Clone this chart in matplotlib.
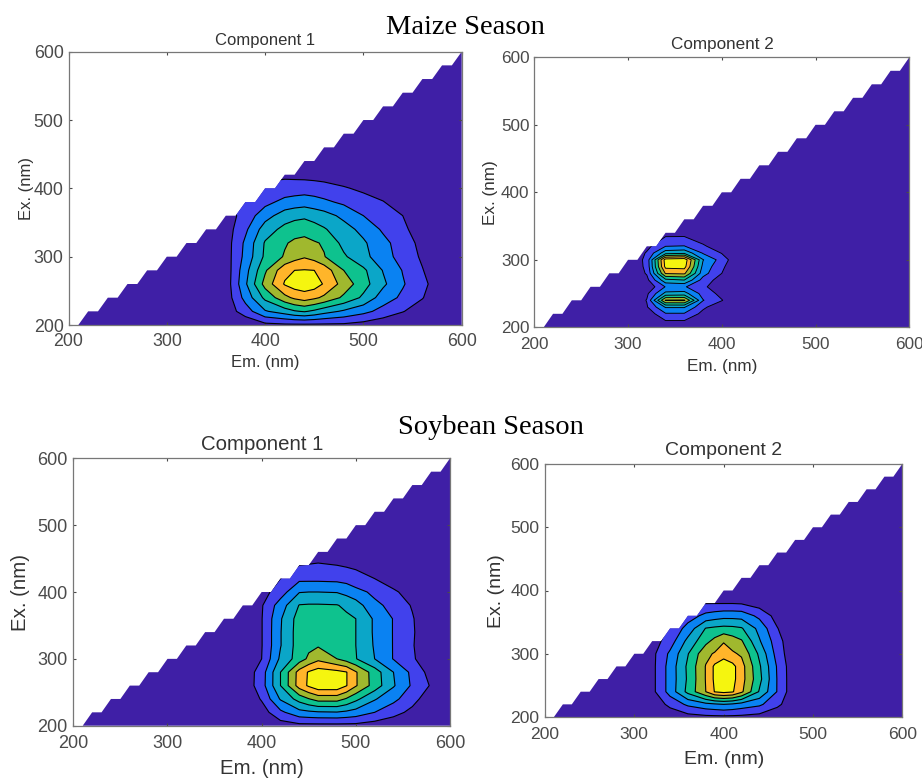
import numpy as np
import matplotlib
matplotlib.use("Agg")
import matplotlib.pyplot as plt

W, H = 922, 780

season_titles = ["Maize Season", "Soybean Season"]
panel_titles = ["Component 1", "Component 2", "Component 1", "Component 2"]
ticks = [200, 300, 400, 500, 600]

# Fluorescence intensity, in contour-level units
em1 = [360, 380, 400, 420, 430, 440, 450, 460, 480, 500, 520, 540, 560, 580]
ex1 = [200, 220, 240, 260, 280, 300, 320, 340, 360, 380, 400, 420]
z1 = [
    [0, .2, .7, .8, .8, .8, .8, .8, .8, .6, .3, .1, 0, 0],
    [.4, 1.5, 2.9, 3.5, 3.9, 4.1, 3.8, 3.4, 2.85, 2.3, 1.65, 1.05, .5, .1],
    [.4, 2.35, 4.25, 5.7, 6.2, 6.5, 6.2, 5.8, 4.8, 3.8, 2.5, 1.8, 1.05, .2],
    [.4, 2.84, 5.37, 7.1, 7.5, 7.6, 7.5, 6.9, 5.6, 4.4, 3.2, 2.1, 1.25, .4],
    [.4, 2.64, 4.85, 6.7, 7.0, 7.05, 7.0, 6.6, 5.0, 4.2, 2.95, 1.95, 1.05, .2],
    [.5, 2.3, 4.2, 5.1, 5.6, 5.9, 5.6, 5.05, 4.15, 3.3, 2.43, 1.6, .85, .1],
    [.5, 2.2, 4.1, 4.9, 5.2, 5.3, 5.1, 4.9, 3.7, 3.15, 2.3, 1.5, .7, 0],
    [.5, 1.8, 3.5, 4.3, 4.55, 4.65, 4.4, 4.1, 3.4, 2.7, 1.85, 1.2, .5, 0],
    [.5, 1.4, 2.6, 3.5, 3.7, 3.8, 3.6, 3.4, 2.75, 2.0, 1.4, 1.0, .3, 0],
    [1.0, 1.3, 1.7, 2.3, 2.45, 2.55, 2.4, 2.2, 1.8, 1.4, 1.05, .4, 0, 0],
    [1.0, 1.2, 1.3, 1.4, 1.45, 1.5, 1.45, 1.35, 1.1, .8, .4, .1, 0, 0],
    [.3, .5, .7, .8, .75, .7, .65, .6, .4, .2, 0, 0, 0, 0],
]

em2 = [300, 320, 340, 360, 380, 400, 420]
ex2 = [200, 220, 230, 240, 250, 260, 270, 280, 290, 300, 310, 320, 340]
z2 = [
    [0, 0, .1, .1, .1, 0, 0],
    [0, .3, 1.9, 1.9, .7, .1, 0],
    [0, .9, 3.1, 3.1, 1.2, .3, 0],
    [0, 1.05, 6.1, 6.15, 2.05, 1.05, 0],
    [0, .8, 3.3, 3.4, 1.6, .7, 0],
    [0, .2, 2.05, 2.1, 1.2, .3, 0],
    [0, .7, 3.7, 4.0, 1.6, .5, 0],
    [0, 1.1, 6.1, 6.2, 2.4, 1.0, 0],
    [0, 1.25, 7.3, 7.4, 2.7, 1.2, 0],
    [0, 1.3, 7.5, 7.7, 3.05, 1.55, 0],
    [0, 1.1, 3.6, 3.8, 1.9, .95, 0],
    [0, .7, 2.0, 2.05, 1.15, .4, 0],
    [0, 0, .6, .6, .2, 0, 0],
]

em3 = [360, 380, 400, 420, 440, 450, 460, 480, 490, 500, 520, 540, 560, 580]
ex3 = [200, 220, 240, 260, 280, 300, 320, 340, 360, 380, 400, 420, 440, 460]
z3 = [
    [0, 0, 0, .5, .7, .7, .7, .7, .7, .7, .5, .2, 0, 0],
    [0, 0, .5, 1.78, 2.67, 2.8, 2.9, 2.95, 2.8, 2.6, 2.0, 1.4, .7, 0],
    [0, 0, 1.1, 3.1, 4.4, 4.95, 5.4, 5.4, 4.9, 4.25, 3.1, 2.25, 1.4, .3],
    [0, .2, 1.55, 4.0, 6.45, 7.15, 7.7, 7.7, 7.05, 6.1, 4.55, 3.1, 1.85, .9],
    [0, .2, 1.5, 4.0, 6.4, 7.1, 7.5, 7.3, 7.05, 6.1, 4.5, 3.0, 1.75, .6],
    [0, .2, 1.0, 3.2, 4.5, 5.2, 5.75, 5.0, 4.55, 4.05, 3.0, 1.95, 1.2, 0],
    [0, 0, .95, 2.95, 4.5, 4.75, 4.9, 4.6, 4.3, 4.0, 2.9, 1.95, 1.1, 0],
    [0, 0, .95, 2.95, 4.5, 4.55, 4.6, 4.5, 4.2, 4.0, 2.85, 1.95, 1.15, 0],
    [0, 0, .95, 2.9, 4.45, 4.5, 4.5, 4.5, 4.2, 4.0, 2.85, 1.95, 1.1, 0],
    [0, 0, .9, 2.5, 4.05, 4.1, 4.1, 4.05, 3.8, 3.5, 2.2, 1.75, .9, 0],
    [0, 0, .6, 1.5, 2.95, 3.0, 3.0, 2.95, 2.7, 2.3, 1.8, 1.15, .6, 0],
    [0, 0, 0, 1.0, 1.75, 1.75, 1.75, 1.7, 1.6, 1.4, 1.0, .5, .2, 0],
    [0, 0, 0, .5, 1.0, 1.05, 1.1, 1.0, .9, .8, .5, .2, 0, 0],
    [0, 0, 0, 0, .3, .4, .5, .4, .35, .3, 0, 0, 0, 0],
]

em4 = [300, 320, 340, 360, 380, 390, 400, 410, 420, 440, 460, 480]
ex4 = [200, 220, 240, 260, 280, 300, 320, 340, 360, 380, 400]
z4 = [
    [0, 0, .2, .6, .75, .78, .8, .78, .75, .6, .2, 0],
    [0, .2, 1.3, 2.2, 2.7, 2.85, 3.0, 2.85, 2.6, 2.2, 1.25, .2],
    [0, .7, 2.4, 4.3, 6.0, 7.05, 7.3, 7.1, 6.2, 3.9, 1.95, .15],
    [0, .7, 2.4, 4.15, 6.05, 7.2, 8.0, 7.3, 6.4, 4.3, 1.95, .15],
    [0, .7, 2.4, 4.2, 6.05, 7.2, 8.0, 7.3, 6.4, 4.15, 1.9, .15],
    [0, .7, 2.2, 3.95, 5.75, 6.1, 6.3, 6.15, 5.85, 3.8, 1.6, .1],
    [0, .5, 1.5, 3.3, 4.7, 5.3, 5.95, 5.5, 5.1, 3.1, 1.45, 0],
    [0, .5, 1.1, 2.4, 4.05, 4.2, 4.3, 4.25, 4.1, 2.7, 1.05, 0],
    [0, 0, .5, 1.5, 2.3, 2.5, 2.65, 2.65, 2.6, 1.75, .6, 0],
    [0, 0, .3, .9, .95, .95, .95, .95, .9, .5, .1, 0],
    [0, 0, 0, 0, 0, 0, 0, 0, 0, 0, 0, 0],
]

levels = [1, 2, 3, 4, 5, 6, 7, 100]
band_colors = ["#4141EC", "#0A82F2", "#0BA6C8", "#0EC28E", "#A0B82E", "#FFB52A", "#F5F50F"]
base_color = "#3F1FA6"
ink = "#4a4a4a"

# left, right, top, bottom in pixels; text centres in pixels; font sizes in pt
panels = [
    dict(box=(68.5, 461.7, 51.7, 325), title=(265, 40), xl=(265.7, 362.7), yl=(26, 188),
         fs=12, tick_fs=12.8, pads=(6, 3.5), lw=0.8, em=em1, ex=ex1, z=z1),
    dict(box=(534.3, 909.3, 57.3, 327.3), title=(722, 45), xl=(722, 366), yl=(490.7, 192.7),
         fs=12.3, tick_fs=12.3, pads=(7, 3.5), lw=0.65, em=em2, ex=ex2, z=z2),
    dict(box=(73.3, 450, 458.3, 725.7), title=(262, 444), xl=(262, 769), yl=(20.7, 592.7),
         fs=14.7, tick_fs=13, pads=(7, 4), lw=0.8, em=em3, ex=ex3, z=z3),
    dict(box=(545, 902.3, 464, 717), title=(724, 450.7), xl=(724, 759), yl=(496, 590.7),
         fs=14, tick_fs=12.6, pads=(7, 4), lw=0.8, em=em4, ex=ex4, z=z4),
]

plt.rcParams["font.family"] = ["Liberation Sans", "DejaVu Sans"]
fig = plt.figure(figsize=(W / 100, H / 100), dpi=100, facecolor="white")


def fx(px):
    return px / W


def fy(py):
    return 1 - py / H


em_grid = np.arange(200, 601, 10)
ex_grid = np.arange(200, 601, 20)
EM, EX = np.meshgrid(em_grid, ex_grid)
base_z = np.ma.masked_where(EM < EX, np.zeros_like(EM, dtype=float))

for i, p in enumerate(panels):
    l, r, t, b = p["box"]
    ax = fig.add_axes([fx(l), fy(b), (r - l) / W, (b - t) / H])
    base = ax.contourf(EM, EX, base_z, levels=[-1, 1], colors=[base_color], antialiased=True)
    clip = base.get_paths()[0]
    cf = ax.contourf(p["em"], p["ex"], np.array(p["z"]), levels=levels, colors=band_colors,
                     antialiased=True)
    cf.set_clip_path(clip, ax.transData)
    cl = ax.contour(p["em"], p["ex"], np.array(p["z"]), levels=levels[:-1], colors="black",
                    linewidths=p["lw"])
    cl.set_clip_path(clip, ax.transData)
    ax.set_xlim(200, 600)
    ax.set_ylim(200, 600)
    ax.set_xticks(ticks)
    ax.set_yticks(ticks)
    ax.tick_params(axis="x", direction="in", length=2.5, width=0.8, color=ink, top=True,
                   labelcolor=ink, labelsize=p["tick_fs"], pad=p["pads"][0])
    ax.tick_params(axis="y", direction="in", length=2.5, width=0.8, color=ink, right=True,
                   labelcolor=ink, labelsize=p["tick_fs"], pad=p["pads"][1])
    for s in ax.spines.values():
        s.set_color("#777777")
        s.set_linewidth(0.9)
    fig.text(fx(p["title"][0]), fy(p["title"][1]), panel_titles[i], ha="center", va="center",
             fontsize=p["fs"], color="#333333")
    fig.text(fx(p["xl"][0]), fy(p["xl"][1]), "Em. (nm)", ha="center", va="center",
             fontsize=p["fs"], color="#333333")
    fig.text(fx(p["yl"][0]), fy(p["yl"][1]), "Ex. (nm)", ha="center", va="center",
             rotation=90, fontsize=p["fs"], color="#333333")

serif = ["Liberation Serif", "DejaVu Serif"]
fig.text(fx(465), fy(28), season_titles[0], ha="center", va="center", fontsize=20.5, family=serif,
         color="black")
fig.text(fx(491), fy(427), season_titles[1], ha="center", va="center", fontsize=20.5, family=serif,
         color="black")

fig.savefig("out.png", dpi=100, facecolor="white")
